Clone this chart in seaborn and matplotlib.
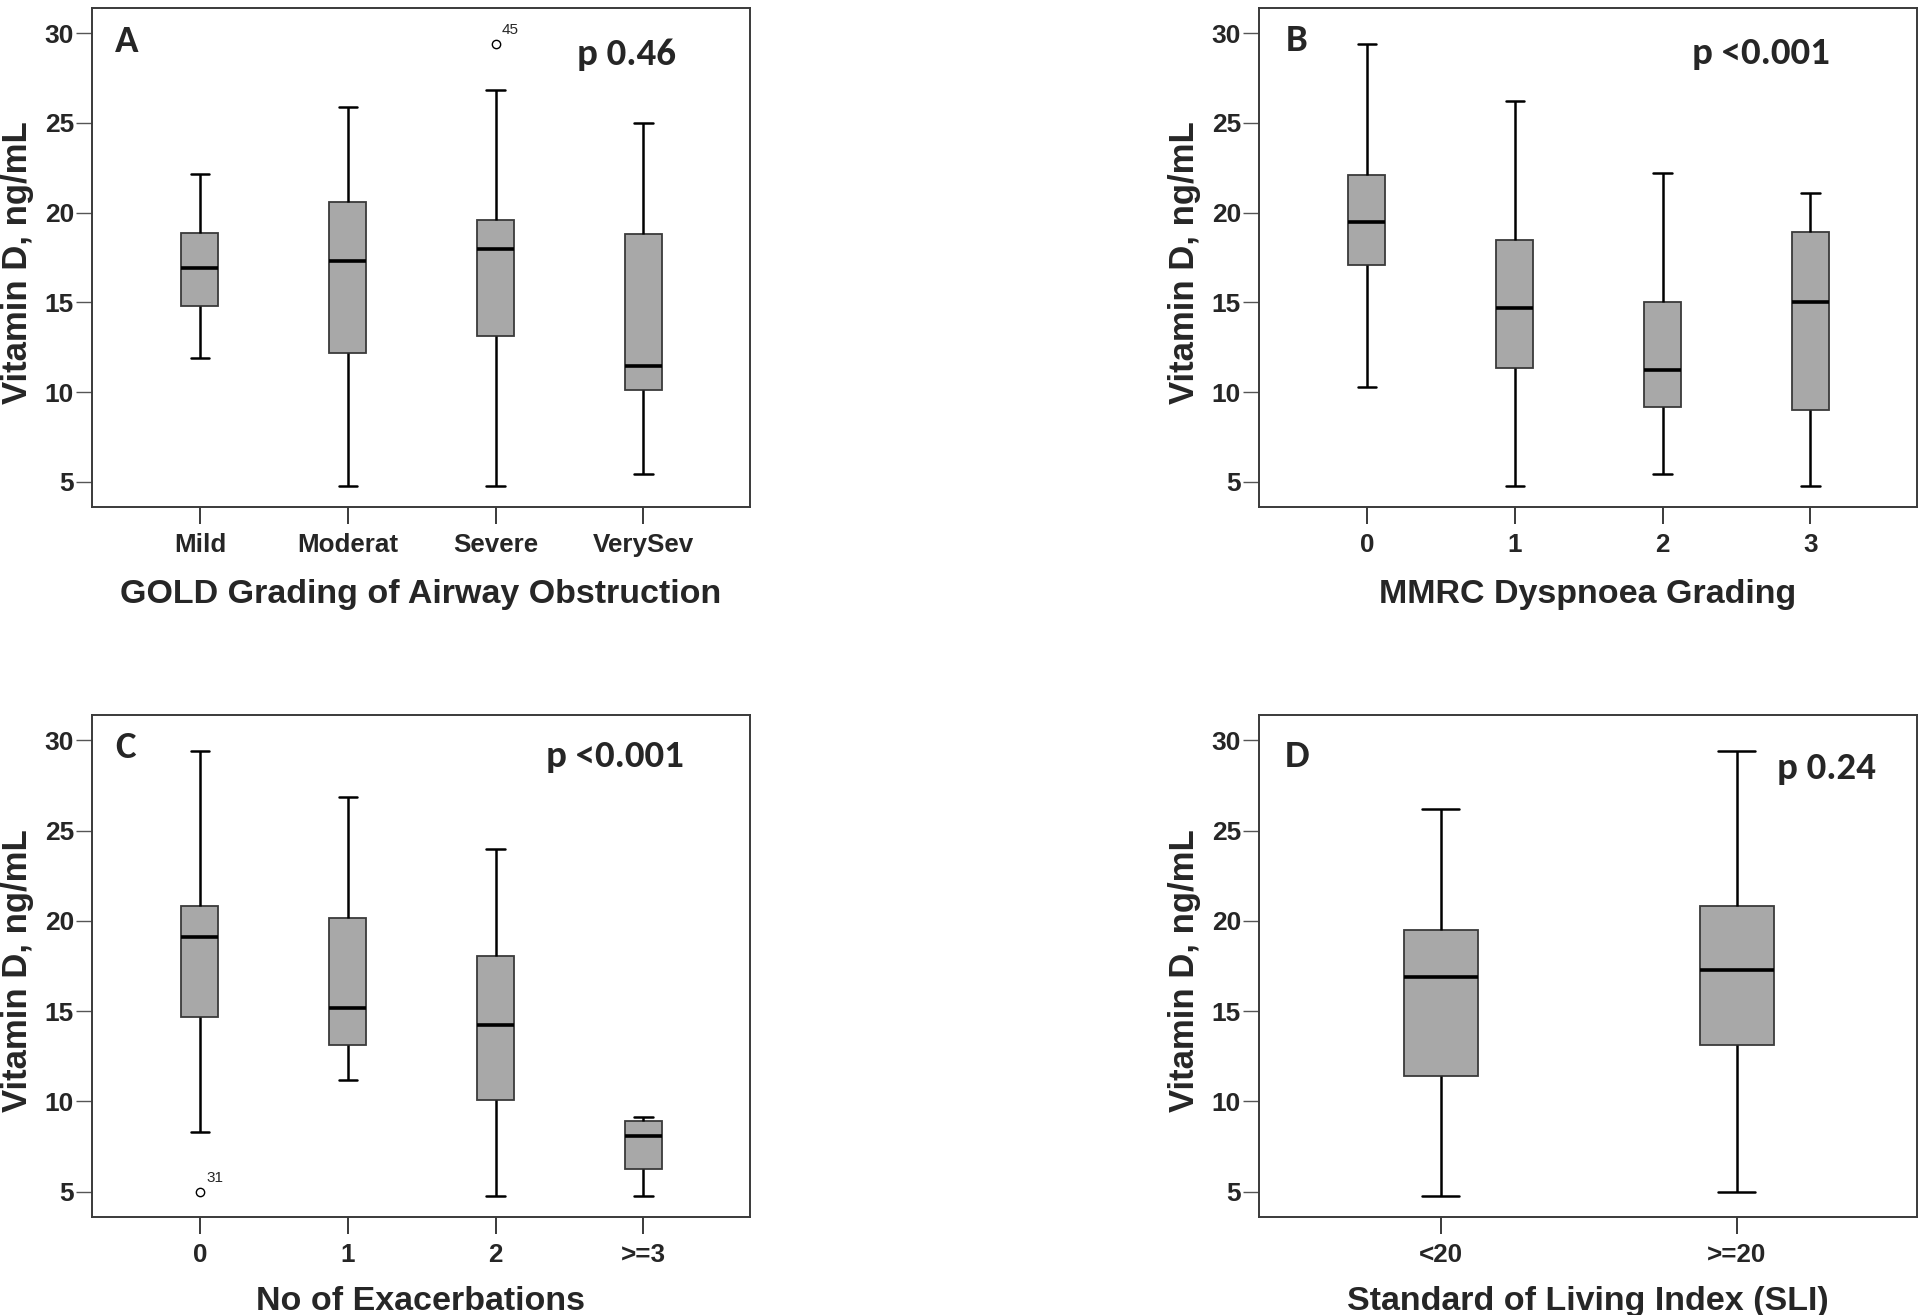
import numpy as np
import pandas as pd
import seaborn as sns
import matplotlib.pyplot as plt
from matplotlib import font_manager

# --- data (five-number summaries per group) ---
gold_cats = ['Mild', 'Moderat', 'Severe', 'VerySev']
gold_low = [11.9, 4.75, 4.75, 5.45]
gold_q1 = [14.8, 12.2, 13.15, 10.1]
gold_med = [16.9, 17.3, 18.0, 11.45]
gold_q3 = [18.85, 20.6, 19.6, 18.8]
gold_high = [22.15, 25.9, 26.85, 25.0]
gold_out = [[], [], [29.4], []]
gold_out_lab = [[], [], ['45'], []]

mmrc_cats = ['0', '1', '2', '3']
mmrc_low = [10.3, 4.75, 5.45, 4.75]
mmrc_q1 = [17.1, 11.35, 9.15, 9.0]
mmrc_med = [19.5, 14.7, 11.25, 15.0]
mmrc_q3 = [22.1, 18.45, 15.0, 18.95]
mmrc_high = [29.4, 26.2, 22.2, 21.1]
mmrc_out = [[], [], [], []]
mmrc_out_lab = [[], [], [], []]

exac_cats = ['0', '1', '2', '>=3']
exac_low = [8.3, 11.2, 4.75, 4.75]
exac_q1 = [14.65, 13.15, 10.1, 6.25]
exac_med = [19.1, 15.15, 14.25, 8.1]
exac_q3 = [20.8, 20.15, 18.05, 8.9]
exac_high = [29.4, 26.85, 24.0, 9.15]
exac_out = [[5.0], [], [], []]
exac_out_lab = [['31'], [], [], []]

sli_cats = ['<20', '>=20']
sli_low = [4.75, 5.0]
sli_q1 = [11.4, 13.1]
sli_med = [16.9, 17.3]
sli_q3 = [19.5, 20.8]
sli_high = [26.2, 29.4]
sli_out = [[], []]
sli_out_lab = [[], []]

panel_letters = ['A', 'B', 'C', 'D']
p_texts = ['p 0.46', 'p <0.001', 'p <0.001', 'p 0.24']
xlabels = ['GOLD Grading of Airway Obstruction', 'MMRC Dyspnoea Grading',
           'No of Exacerbations', 'Standard of Living Index (SLI)']
ylabel = 'Vitamin D, ng/mL'


def make_frame(cats, low, q1, med, q3, high, outs):
    # sample whose quartiles / whiskers reproduce the summary exactly
    rows = []
    for c, lo, a, m, b, hi, ol in zip(cats, low, q1, med, q3, high, outs):
        for v in [lo, a, a, m, m, b, b, hi] + list(ol):
            rows.append((c, v))
    return pd.DataFrame(rows, columns=['group', 'value'])


sns.set_style('white')
installed = {f.name for f in font_manager.fontManager.ttflist}
label_font = ['Liberation Sans', 'DejaVu Sans']
tag_font = [f for f in ['Carlito', 'Lato', 'Liberation Sans'] if f in installed] + ['DejaVu Sans']
plt.rcParams['font.family'] = label_font

fig = plt.figure(figsize=(19.2, 13.15), dpi=100)
axes_pos = [
    [0.0479, 0.6144, 0.3427, 0.3795],
    [0.6557, 0.6144, 0.3427, 0.3795],
    [0.0479, 0.0745, 0.3427, 0.3818],
    [0.6557, 0.0745, 0.3427, 0.3818],
]
panels = [
    (gold_cats, gold_low, gold_q1, gold_med, gold_q3, gold_high, gold_out, gold_out_lab),
    (mmrc_cats, mmrc_low, mmrc_q1, mmrc_med, mmrc_q3, mmrc_high, mmrc_out, mmrc_out_lab),
    (exac_cats, exac_low, exac_q1, exac_med, exac_q3, exac_high, exac_out, exac_out_lab),
    (sli_cats, sli_low, sli_q1, sli_med, sli_q3, sli_high, sli_out, sli_out_lab),
]
letter_pos = [(0.035, 0.912), (0.040, 0.914), (0.036, 0.914), (0.039, 0.896)]
p_pos = [(0.737, 0.886), (0.658, 0.888), (0.690, 0.896), (0.787, 0.873)]
xlab_y = [-0.145, -0.145, -0.138, -0.138]

for i, (cats, lo, q1, med, q3, hi, outs, out_lab) in enumerate(panels):
    ax = fig.add_axes(axes_pos[i])
    df = make_frame(cats, lo, q1, med, q3, hi, outs)
    sns.boxplot(data=df, x='group', y='value', order=cats, ax=ax,
                width=0.25, color='#A8A8A8', saturation=1, whis=1.5,
                linecolor='#3a3a3a', linewidth=1.3,
                medianprops=dict(color='black', linewidth=2.6),
                whiskerprops=dict(color='black', linewidth=1.8),
                capprops=dict(color='black', linewidth=1.8),
                flierprops=dict(marker='o', markersize=6, markerfacecolor='white',
                                markeredgecolor='black', markeredgewidth=1.0))
    # outlier case numbers
    for j, (ol, labs) in enumerate(zip(outs, out_lab)):
        for v, t in zip(ol, labs):
            ax.annotate(t, (j, v), xytext=(4.5, 5), textcoords='offset points',
                        fontsize=11, ha='left', va='bottom')

    n = len(cats)
    if n == 4:
        ax.set_xlim(-0.73, 3.72)
    else:
        ax.set_xlim(-0.615, 1.608)
    ax.set_ylim(3.6, 31.4)
    ax.set_yticks([5, 10, 15, 20, 25, 30])

    for s in ax.spines.values():
        s.set_visible(True)
        s.set_color('#3a3a3a')
        s.set_linewidth(1.4)

    ax.tick_params(axis='y', direction='out', length=11.5, width=1.0, color='#555555',
                   labelsize=19, pad=1.5, left=True)
    ax.tick_params(axis='x', direction='out', length=12, width=1.4, color='#3a3a3a',
                   labelsize=18.7, pad=7, bottom=True)
    for lab in ax.get_xticklabels() + ax.get_yticklabels():
        lab.set_fontweight('bold')

    ax.set_xlabel(xlabels[i], fontsize=24.5, fontweight='bold')
    ax.set_ylabel(ylabel, fontsize=25, fontweight='bold')
    ax.xaxis.set_label_coords(0.5, xlab_y[i])
    ax.yaxis.set_label_coords(-0.088, 0.49)

    ax.text(*letter_pos[i], panel_letters[i], transform=ax.transAxes,
            family=tag_font, fontsize=28, fontweight='bold', va='baseline', ha='left')
    ax.text(*p_pos[i], p_texts[i], transform=ax.transAxes,
            family=tag_font, fontsize=28, fontweight='bold', va='baseline', ha='left')

fig.savefig('out.png', dpi=100, facecolor='white')
